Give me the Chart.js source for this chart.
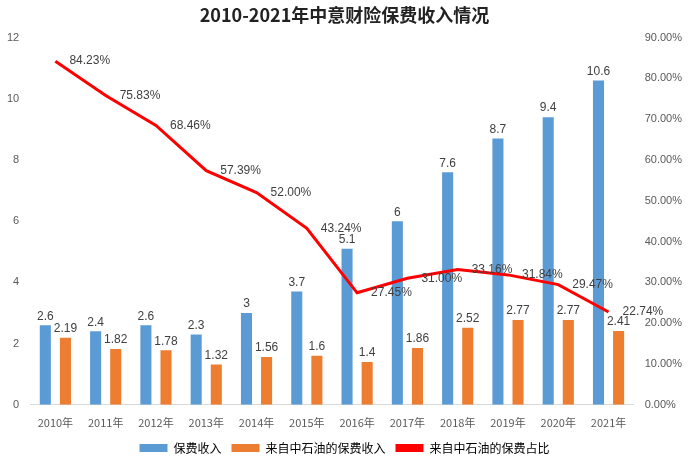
<!DOCTYPE html>
<html><head><meta charset="utf-8">
<script src="https://cdn.jsdelivr.net/npm/chart.js"></script>
<style>body{margin:0;background:#fff}#w{width:693px;height:466px}</style>
</head><body><div id="w"><canvas id="c"></canvas></div>
<script>
const categories=['2010年','2011年','2012年','2013年','2014年','2015年','2016年','2017年','2018年','2019年','2020年','2021年'];
const premium=[2.6,2.4,2.6,2.3,3,3.7,5.1,6,7.6,8.7,9.4,10.6];
const fromSinopec=[2.19,1.82,1.78,1.32,1.56,1.6,1.4,1.86,2.52,2.77,2.77,2.41];
const share=[84.23,75.83,68.46,57.39,52.00,43.24,27.45,31.00,33.16,31.84,29.47,22.74];
const labels={id:'lbl',afterDatasetsDraw(ch){const x=ch.ctx;x.save();x.font='12px "Liberation Sans", Arial';x.fillStyle='#404040';
ch.data.datasets.forEach((ds,i)=>{ch.getDatasetMeta(i).data.forEach((el,j)=>{
if(ds.type==='line'){x.textAlign='left';x.textBaseline='middle';x.fillText(share[j].toFixed(2)+'%',el.x+14,el.y);}
else{x.textAlign='center';x.textBaseline='bottom';x.fillText(String(ds.data[j]),el.x,el.y-3);}});});x.restore();}};
Chart.defaults.font.family='"Liberation Sans", Arial';
new Chart(document.getElementById('c'),{type:'bar',data:{labels:categories,datasets:[
{type:'line',label:'来自中石油的保费占比',data:share,borderColor:'#ff0000',backgroundColor:'#ff0000',borderWidth:3,pointRadius:0,yAxisID:'y1',order:0},
{label:'保费收入',data:premium,backgroundColor:'#5b9bd5',yAxisID:'y',order:1,barPercentage:0.55,categoryPercentage:0.8},
{label:'来自中石油的保费收入',data:fromSinopec,backgroundColor:'#ed7d31',yAxisID:'y',order:2,barPercentage:0.55,categoryPercentage:0.8}]},
options:{responsive:true,maintainAspectRatio:false,animation:false,layout:{padding:{left:4,right:8,top:0,bottom:2}},
plugins:{title:{display:true,text:'2010-2021年中意财险保费收入情况',font:{size:18,weight:'bold',family:'"Noto Sans CJK SC"'},color:'#222',padding:{top:4,bottom:12}},
legend:{position:'bottom',labels:{boxWidth:28,boxHeight:8,color:'#404040',font:{size:12,family:'"Noto Sans CJK SC"'},
generateLabels(ch){return [1,2,0].map(i=>{const d=ch.data.datasets[i];return {text:d.label,fillStyle:d.backgroundColor,strokeStyle:d.backgroundColor,lineWidth:0,datasetIndex:i};});}}},tooltip:{enabled:false}},
scales:{x:{grid:{display:false},border:{color:'#d9d9d9'},ticks:{color:'#595959',font:{size:11,family:'"Noto Sans CJK SC"'}}},
y:{min:0,max:12,ticks:{stepSize:2,color:'#595959',font:{size:11}},grid:{display:false},border:{display:false}},
y1:{position:'right',min:0,max:90,ticks:{stepSize:10,color:'#595959',font:{size:11},callback:v=>v.toFixed(2)+'%'},grid:{display:false},border:{display:false}}}},
plugins:[labels]});
</script></body></html>
